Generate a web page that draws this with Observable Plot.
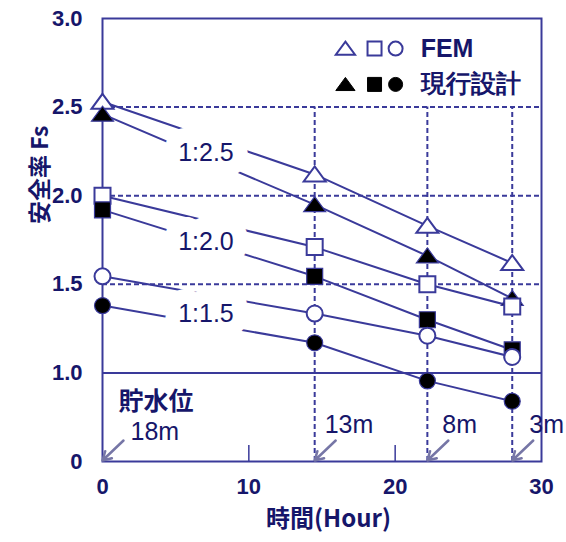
<!DOCTYPE html>
<html><head><meta charset="utf-8">
<script src="https://cdn.jsdelivr.net/npm/d3@7"></script>
<script src="https://cdn.jsdelivr.net/npm/@observablehq/plot@0.6"></script>
<style>body{margin:0;background:#fff;} svg{display:block}</style>
</head><body><div id="chart"></div>
<script>
// ---- data ----
const hours = [0, 14.5, 22.2, 28];
const femSlope25 = [2.53, 2.12, 1.83, 1.62];
const designSlope25 = [2.46, 1.95, 1.66, 1.42];
const femSlope20 = [2.00, 1.71, 1.50, 1.375];
const designSlope20 = [1.92, 1.545, 1.30, 1.13];
const femSlope15 = [1.545, 1.335, 1.21, 1.09];
const designSlope15 = [1.38, 1.17, 0.955, 0.84];
const slopeLabels = ["1:2.5", "1:2.0", "1:1.5"];
const waterLevels = ["18m", "13m", "8m", "3m"];
const xTicks = [0, 10, 20, 30];
const yTicks = [0.5, 1.0, 1.5, 2.0, 2.5, 3.0];
const yTickLabels = ["0", "1.0", "1.5", "2.0", "2.5", "3.0"];
const legendLabels = ["FEM", "現行設計"];

// ---- styles ----
const lineColor = "#3a3a9a";
const textColor = "#16166a";
const arrowColor = "#7676a6";
const latin = "Liberation Sans, Arial, sans-serif";
const cjk = "Noto Sans CJK JP, sans-serif";

const tri = {draw(ctx, size){const r=Math.sqrt(size/Math.PI);ctx.moveTo(0,-1.0*r);ctx.lineTo(1.375*r,0.875*r);ctx.lineTo(-1.375*r,0.875*r);ctx.closePath();}};
const sq = {draw(ctx, size){const r=Math.sqrt(size/Math.PI);ctx.rect(-r,-r,2*r,2*r);}};
const circ = {draw(ctx, size){const r=Math.sqrt(size/Math.PI);ctx.moveTo(r,0);ctx.arc(0,0,r,0,2*Math.PI);}};

const seriesDefs = [
  {name:"fem25", values:femSlope25, symbol:tri, filled:false},
  {name:"des25", values:designSlope25, symbol:tri, filled:true},
  {name:"fem20", values:femSlope20, symbol:sq, filled:false},
  {name:"des20", values:designSlope20, symbol:sq, filled:true},
  {name:"fem15", values:femSlope15, symbol:circ, filled:false},
  {name:"des15", values:designSlope15, symbol:circ, filled:true}
];
const rows = seriesDefs.flatMap(s => s.values.map((v,i)=>({series:s.name, hour:hours[i], fs:v})));

const slopeLabelPos = [[7.07, 2.24], [7.07, 1.74], [7.07, 1.33]];
const slopeRows = slopeLabels.map((t,i)=>({text:t, x:slopeLabelPos[i][0], y:slopeLabelPos[i][1]}));

const pxPerHour = 439/30, pxPerFs = 443/2.5;
const levelDx = [28, 10, 15, 17];
const levelDy = [-30, -37, -37, -37];
const levelRows = waterLevels.map((t,i)=>({text:t, hour:hours[i], tx: hours[i]+levelDx[i]/pxPerHour, ty: 0.5 - levelDy[i]/pxPerFs}));

const legendSym = [tri, sq, circ];
const legendX = [16.6, 18.59, 20.03];
const legendY = [2.83, 2.628];
const legendDots = [];
legendY.forEach((y,row)=>legendSym.forEach((s,k)=>legendDots.push({x:legendX[k], y, symbol:s, filled:row===1})));

const marks = [
  Plot.ruleY([1.5, 2.0, 2.5], {stroke:lineColor, strokeWidth:2, strokeDasharray:"5,3"}),
  Plot.ruleX(hours.slice(1), {y1:0.5, y2:2.5, stroke:lineColor, strokeWidth:2, strokeDasharray:"5,3"}),
  Plot.ruleY([1.0], {stroke:lineColor, strokeWidth:2}),
  Plot.tickX([10, 20], {stroke:lineColor, strokeWidth:1.5, insetTop:427}),
  Plot.frame({stroke:lineColor, strokeWidth:2}),
  Plot.line(rows, {x:"hour", y:"fs", z:"series", stroke:lineColor, strokeWidth:2}),
  Plot.text(slopeRows, {x:"x", y:"y", text:"text", fill:textColor, stroke:"white", strokeWidth:30, strokeLinejoin:"round", fontSize:25, fontFamily:latin}),
  ...seriesDefs.map(s => Plot.dot(rows.filter(r=>r.series===s.name), {x:"hour", y:"fs", symbol:s.symbol, r:8, fill: s.filled ? "black" : "white", stroke: lineColor, strokeWidth: s.filled ? 1.2 : 2})),
  ...legendDots.map(d => Plot.dot([d], {x:"x", y:"y", symbol:d.symbol, r:7, fill: d.filled ? "black" : "white", stroke: d.filled ? "black" : lineColor, strokeWidth: d.filled ? 1 : 2})),
  Plot.text(legendLabels, {x:21.74, y:(d,i)=>legendY[i], text:d=>d, textAnchor:"start", fill:textColor, fontSize:25, fontWeight:"bold", fontFamily:(d)=>d==="FEM"?latin:cjk}),
  Plot.arrow(levelRows, {x1:d=>d.hour+21/pxPerHour, y1:0.5+21/pxPerFs, x2:"hour", y2:0.5+1/pxPerFs, stroke:arrowColor, strokeWidth:2.5, headLength:9}),
  Plot.text(levelRows, {x:"tx", y:"ty", text:"text", textAnchor:"start", fill:textColor, fontSize:25, fontFamily:latin}),
  Plot.text(["貯水位"], {x:1.09, y:0.833, text:d=>d, textAnchor:"start", fill:textColor, fontSize:25, fontWeight:"bold", fontFamily:cjk}),
  Plot.axisX(xTicks, {tickSize:0, tickPadding:17, fontSize:22, fontWeight:"bold", fill:textColor, fontFamily:latin, label:null}),
  Plot.axisY(yTicks, {tickSize:0, tickPadding:20, tickFormat:(d)=>yTickLabels[yTicks.indexOf(d)], fontSize:22, fontWeight:"bold", fill:textColor, fontFamily:latin, label:null}),
  Plot.text(["安全率 Fs"], {frameAnchor:"left", y:1.84, dx:-62, rotate:-90, text:d=>d, fill:textColor, fontSize:23, fontWeight:"bold", fontFamily:cjk}),
  Plot.text(["時間(Hour)"], {frameAnchor:"bottom", x:15.45, dy:65, text:d=>d, fill:textColor, fontSize:24, fontWeight:"bold", fontFamily:cjk})
];

const chart = Plot.plot({
  width:566, height:542,
  marginLeft:102, marginRight:25, marginTop:18, marginBottom:81,
  x:{domain:[0,30]},
  y:{domain:[0.5,3.0]},
  style:{fontFamily:latin, background:"white", overflow:"visible"},
  marks
});
document.getElementById("chart").appendChild(chart);
</script>
</body></html>
